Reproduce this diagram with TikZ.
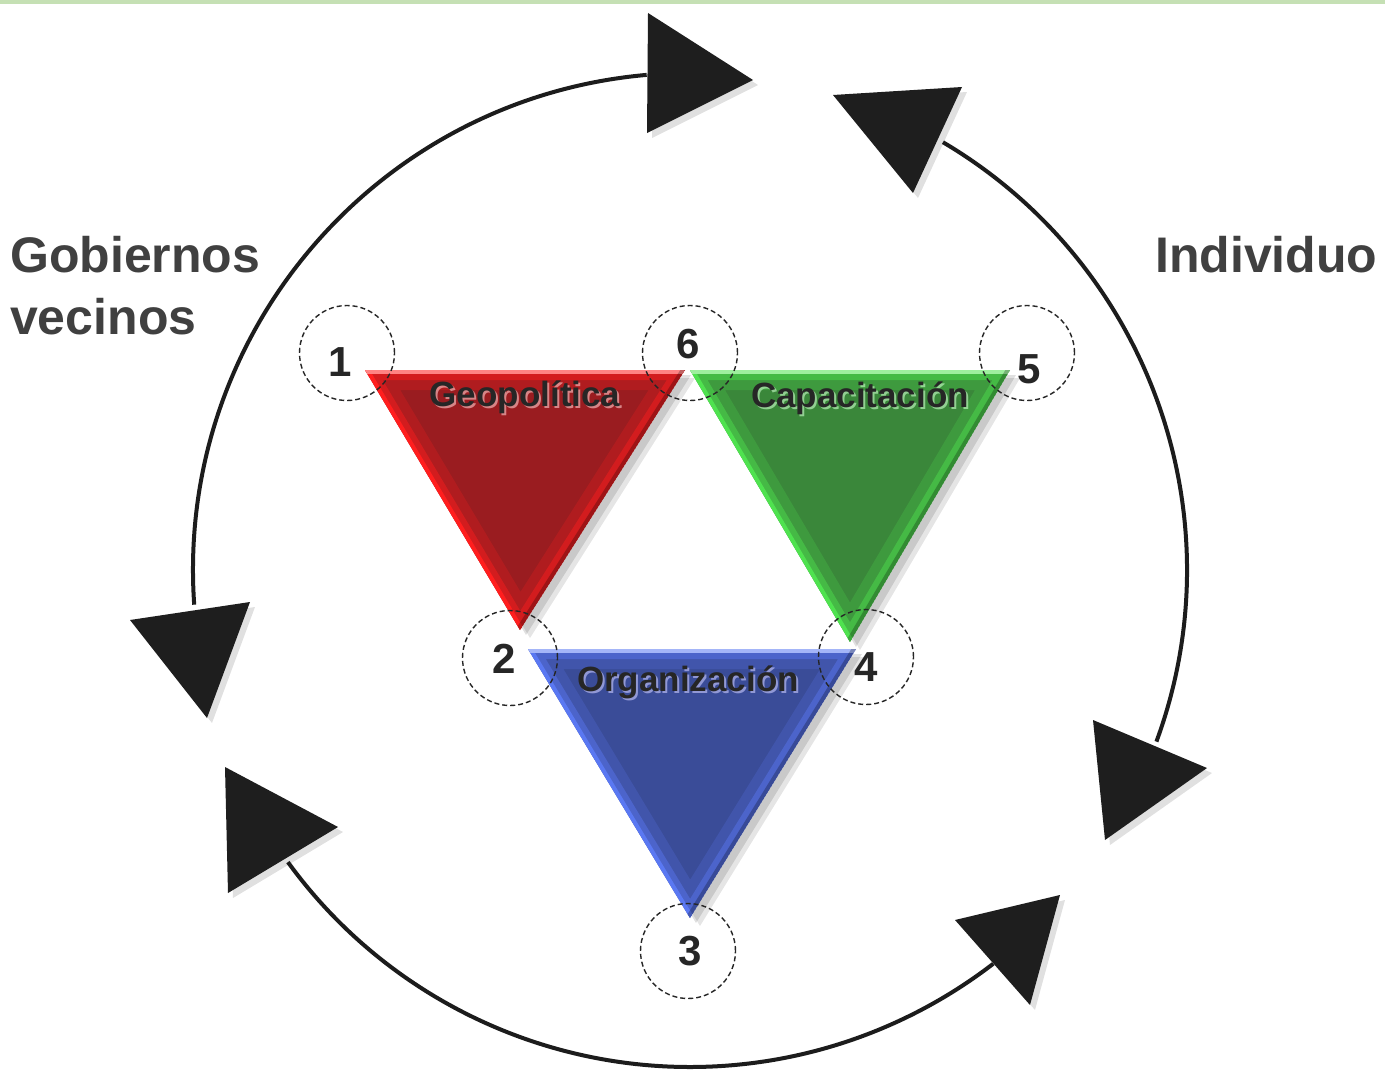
\documentclass[tikz,border=0pt]{standalone}
\usepackage{fontspec}
\setmainfont{Liberation Sans}
\usetikzlibrary{calc}
\definecolor{topgreen}{HTML}{C5E0B4}
\definecolor{arcgray}{HTML}{1C1C1C}
\definecolor{headgray}{HTML}{1E1E1E}
\definecolor{reddark}{HTML}{9A1C20}
\definecolor{redbright}{HTML}{FF1E1E}
\definecolor{greendark}{HTML}{3A873A}
\definecolor{greenbright}{HTML}{4FE24F}
\definecolor{bluedark}{HTML}{3A4C98}
\definecolor{bluebright}{HTML}{5A78F2}
\definecolor{txtdark}{HTML}{262626}
\newcommand{\bevtri}[5]{%
  \fill[black, opacity=0.10] ($#1+(10,8)$) -- ($#2+(10,8)$) -- ($#3+(10,8)$) -- cycle;
  \fill[black, opacity=0.12] ($#1+(6,5)$) -- ($#2+(6,5)$) -- ($#3+(6,5)$) -- cycle;
  \begin{scope}
    \clip #1 -- #2 -- #3 -- cycle;
    \fill[#4] #1 -- #2 -- #3 -- cycle;
    \draw[#5, line width=40pt, opacity=0.22] #1 -- #2 -- #3 -- cycle;
    \draw[#5, line width=20pt, opacity=0.45] #1 -- #2 -- #3 -- cycle;
    \draw[#5, line width=8pt] #3 -- #1;
    \draw[#5!55!white, line width=8pt] #1 -- #2;
    \draw[black, line width=8pt, opacity=0.25] #2 -- #3;
  \end{scope}}
\begin{document}
\begin{tikzpicture}[x=1pt,y=-1pt,
  arcline/.style={line width=4pt, draw=arcgray},
  headtri/.style={fill=headgray},
  numcirc/.style={circle, draw=black!85, dash pattern=on 5pt off 3pt, line width=1.4pt, minimum size=95pt, inner sep=0pt},
  numlbl/.style={font=\fontsize{42}{42}\selectfont\bfseries, text=txtdark, inner sep=0pt},
  trilbl/.style={font=\fontsize{35}{35}\selectfont\bfseries, text=txtdark, inner sep=0pt},
  sidelbl/.style={font=\fontsize{50}{62}\selectfont\bfseries, text=black!75, align=left, inner sep=0pt}]
\useasboundingbox (0,0) rectangle (1385,1073);
\fill[white] (0,0) rectangle (1385,1073);
\fill[topgreen] (0,0) rectangle (1385,4);

% circle of arcs
\coordinate (c) at (690,570);
\draw[arcline] ($(c)+(176:497)$) arc[start angle=176, end angle=265, radius=497];
\draw[arcline] ($(c)+(300.6:497)$) arc[start angle=300.6, end angle=380.2, radius=497];
\draw[arcline] ($(c)+(144:497)$) arc[start angle=144, end angle=52.4, radius=497];

% arrowheads
\coordinate (ha1) at (648,13);  \coordinate (ha2) at (647,133); \coordinate (ha3) at (753,80);
\coordinate (hb1) at (833,95);  \coordinate (hb2) at (962,87);  \coordinate (hb3) at (913,193);
\coordinate (hc1) at (130,620); \coordinate (hc2) at (250,602); \coordinate (hc3) at (207,718);
\coordinate (hd1) at (225,767); \coordinate (hd2) at (228,893); \coordinate (hd3) at (338,827);
\coordinate (he1) at (1093,720); \coordinate (he2) at (1105,840); \coordinate (he3) at (1207,768);
\coordinate (hf1) at (955,920); \coordinate (hf2) at (1030,1005); \coordinate (hf3) at (1060,895);
\foreach \h in {ha,hb,hc,hd,he,hf}{
  \fill[black, opacity=0.12] ($(\h1)+(5,5)$) -- ($(\h2)+(5,5)$) -- ($(\h3)+(5,5)$) -- cycle;
  \fill[headtri] (\h1) -- (\h2) -- (\h3) -- cycle;
}

% triangles
\coordinate (r1) at (365,370); \coordinate (r2) at (685,370); \coordinate (r3) at (520,630);
\coordinate (g1) at (690,370); \coordinate (g2) at (1010,370); \coordinate (g3) at (850,642);
\coordinate (b1) at (528,649); \coordinate (b2) at (856,649); \coordinate (b3) at (690,918);
\bevtri{(r1)}{(r2)}{(r3)}{reddark}{redbright}
\bevtri{(g1)}{(g2)}{(g3)}{greendark}{greenbright}
\bevtri{(b1)}{(b2)}{(b3)}{bluedark}{bluebright}

% dashed number circles
\node[numcirc] (c1) at (347,353) {};
\node[numcirc] (c6) at (690,353) {};
\node[numcirc] (c5) at (1027,353) {};
\node[numcirc] (c2) at (510,658) {};
\node[numcirc] (c4) at (866,657) {};
\node[numcirc] (c3) at (688,951) {};

\node[numlbl] (n1) at (340,362) {1};
\node[numlbl] (n6) at (688,344) {6};
\node[numlbl] (n5) at (1029,369) {5};
\node[numlbl] (n2) at (504,659) {2};
\node[numlbl] (n4) at (866,667) {4};
\node[numlbl] (n3) at (690,951) {3};

% triangle labels
\node[trilbl, text=white!80!red, opacity=0.6] (t1s) at (527,399) {Geopolítica};
\node[trilbl] (t1) at (525,397) {Geopolítica};
\node[trilbl, text=white!80!green, opacity=0.6] (t2s) at (862,400) {Capacitación};
\node[trilbl] (t2) at (860,398) {Capacitación};
\node[trilbl, text=white!80!blue, opacity=0.6] (t3s) at (690,684) {Organización};
\node[trilbl] (t3) at (688,682) {Organización};

% side labels
\node[sidelbl, anchor=north west] (gob) at (10,236) {Gobiernos\\vecinos};
\node[sidelbl, anchor=north west] (ind) at (1155,236) {Individuo};
\end{tikzpicture}
\end{document}
